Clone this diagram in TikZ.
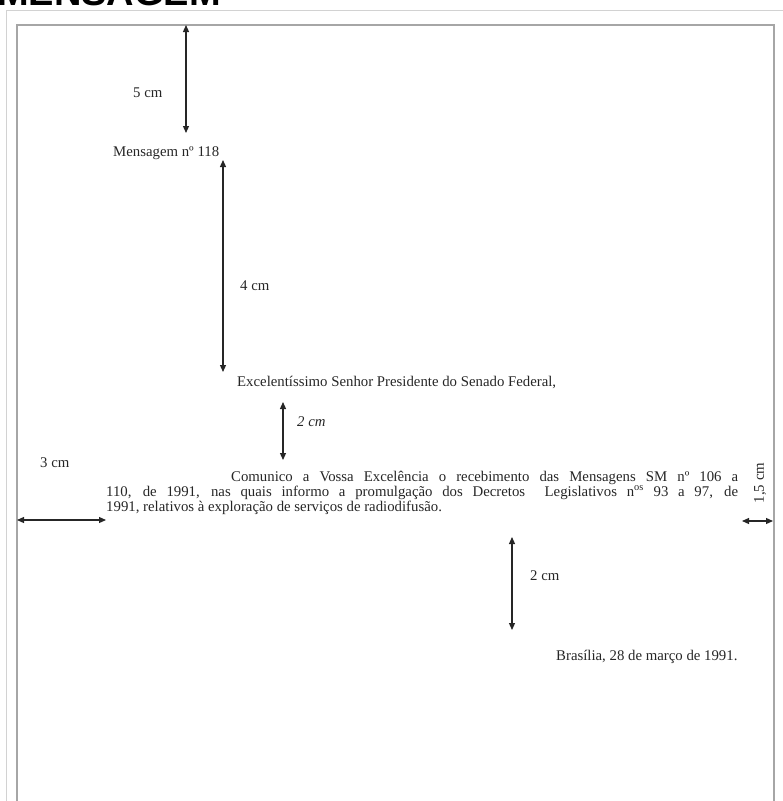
\documentclass[tikz,border=0pt]{standalone}
\usepackage{fontspec}
\setmainfont{Liberation Serif}
\newfontfamily\hdrfont{Liberation Sans}
\usetikzlibrary{arrows.meta}
\begin{document}
\begin{tikzpicture}[x=1pt,y=-1pt,
  txt/.style={inner sep=0pt, anchor=base west, font=\fontsize{14.8}{15}\selectfont, text=black!85},
  dimline/.style={{Triangle[length=7pt,width=6pt]}-{Triangle[length=7pt,width=6pt]}, line width=1.2pt, draw=black!85},
  pageframe/.style={draw=gray!70, line width=2pt},
  outerframe/.style={draw=gray!35, line width=0.8pt}]
\useasboundingbox (0,0) rectangle (783,801);
\clip (0,0) rectangle (783,801);
\node[anchor=base west, inner sep=0pt, font=\hdrfont\bfseries\fontsize{38}{38}\selectfont] (hdr) at (-3,5) {MENSAGEM};
\draw[outerframe] (6,815) -- (6,10) -- (790,10);
\draw[pageframe] (17,815) -- (17,25) -- (774,25) -- (774,815);
% texts
\node[txt] (msg) at (113,156) {Mensagem nº 118};
\node[txt] (exc) at (237,386) {Excelentíssimo Senhor Presidente do Senado Federal,};
\node[txt] (l1) at (231,481) {\makebox[507pt][s]{Comunico a Vossa Excelência o recebimento das Mensagens SM nº 106 a}};
\node[txt] (l2) at (106,496) {\makebox[632pt][s]{110, de 1991, nas quais informo a promulgação dos Decretos\ \ Legislativos n\textsuperscript{os} 93 a 97, de}};
\node[txt] (l3) at (106,511) {1991, relativos à exploração de serviços de radiodifusão.};
\node[txt] (bsb) at (556,660) {Brasília, 28 de março de 1991.};
% labels
\node[txt] (lab5) at (133,97) {5 cm};
\node[txt] (lab4) at (240,290) {4 cm};
\node[txt, font=\fontsize{14.8}{15}\selectfont\itshape] (lab2a) at (297,426) {2 cm};
\node[txt] (lab3) at (40,467) {3 cm};
\node[txt] (lab2b) at (530,580) {2 cm};
\node[inner sep=0pt, rotate=90, font=\fontsize{14.8}{15}\selectfont, text=black!85] (lab15) at (760,483) {1,5 cm};
% arrow ends
\coordinate (a5t) at (186,25);  \coordinate (a5b) at (186,133);
\coordinate (a4t) at (223,160); \coordinate (a4b) at (223,372);
\coordinate (a2t) at (283,402); \coordinate (a2b) at (283,460);
\coordinate (a3l) at (17,520);  \coordinate (a3r) at (106,520);
\coordinate (a15l) at (742,521); \coordinate (a15r) at (773,521);
\coordinate (a2ct) at (512,537); \coordinate (a2cb) at (512,630);
\draw[dimline] (a5t) -- (a5b);
\draw[dimline] (a4t) -- (a4b);
\draw[dimline] (a2t) -- (a2b);
\draw[dimline] (a3l) -- (a3r);
\draw[dimline] (a15l) -- (a15r);
\draw[dimline] (a2ct) -- (a2cb);
\end{tikzpicture}
\end{document}
